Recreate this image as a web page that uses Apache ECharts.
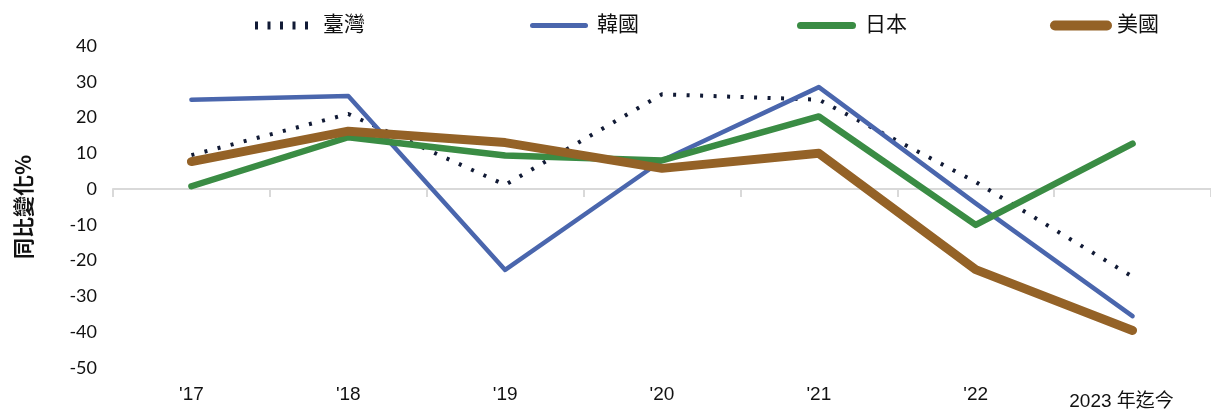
<!DOCTYPE html>
<html>
<head>
<meta charset="utf-8">
<script src="https://cdn.jsdelivr.net/npm/echarts@6/dist/echarts.min.js"></script>
<style>
html,body{margin:0;padding:0;background:#fff;}
#c{width:1211px;height:411px;}
</style>
</head>
<body>
<div id="c"></div>
<script>
const categories = ["'17", "'18", "'19", "'20", "'21", "'22", "2023 年迄今"];
const taiwan = [9.5, 21, 1.2, 26.5, 25, 2, -24.5];
const korea = [25, 26, -22.6, 8, 28.5, -4, -35.5];
const japan = [0.8, 14.5, 9.4, 8, 20.3, -10, 12.7];
const usa = [7.7, 16.2, 13, 5.8, 10, -22.5, -39.5];
const seriesNames = ["臺灣", "韓國", "日本", "美國"];
const yTicks = { min: -50, max: 40, interval: 10 };

const colors = ["#111a35", "#4a66ad", "#3a8c44", "#946227"];
const widths = [4, 4.5, 6.5, 9];
const types = [[3, 10.5], "solid", "solid", "solid"];
const dataSets = [taiwan, korea, japan, usa];

function pill(w, h) {
  const r = h / 2;
  return 'path://M' + r + ',0h' + (w - h) + 'a' + r + ',' + r + ' 0 0 1 0,' + h +
    'h-' + (w - h) + 'a' + r + ',' + r + ' 0 0 1 0,-' + h + 'z';
}
const legendLeft = [250, 525, 792, 1045];
const legendW = [53, 58, 59, 62];
const legendH = [8, 5, 7, 10];
const legendPad = [10, 4, 4, 0];
const legendIcon = [
  'path://M0,0h3v8h-3z M12.5,0h3v8h-3z M25,0h3v8h-3z M37.5,0h3v8h-3z M50,0h3v8h-3z',
  pill(58, 5), pill(59, 7), pill(62, 10)
];

const cjk = "'Liberation Sans', 'Noto Sans CJK TC', sans-serif";

const chart = echarts.init(document.getElementById('c'));
chart.setOption({
  animation: false,
  grid: { left: 113, right: 0, top: 46, bottom: 36 },
  legend: seriesNames.map((n, i) => ({
    data: [{ name: n, icon: legendIcon[i], itemStyle: { color: colors[i] } }],
    left: legendLeft[i],
    top: 10,
    itemWidth: legendW[i],
    itemHeight: legendH[i],
    textStyle: { fontSize: 21, color: '#111', fontFamily: cjk, padding: [0, 0, 0, legendPad[i]] },
    selectedMode: false
  })),
  xAxis: [
    {
      type: 'category',
      data: categories,
      position: 'bottom',
      boundaryGap: true,
      axisLine: { show: false, onZero: false },
      axisTick: { show: false },
      axisLabel: {
        interval: 0,
        margin: 17,
        fontSize: 19,
        color: '#111',
        fontFamily: cjk,
        formatter: function (v, i) { return i === 6 ? '{last|' + v + '}' : v; },
        rich: { last: { fontSize: 19, color: '#111', fontFamily: cjk, padding: [7, 22, 0, 0] } }
      }
    },
    {
      type: 'category',
      data: categories,
      position: 'top',
      boundaryGap: true,
      axisLine: { show: true, onZero: true, lineStyle: { color: '#d9d9d9', width: 2 } },
      axisTick: { show: true, inside: true, length: 8, interval: 0, lineStyle: { color: '#d9d9d9', width: 2 } },
      axisLabel: { show: false }
    }
  ],
  yAxis: {
    type: 'value',
    min: yTicks.min,
    max: yTicks.max,
    interval: yTicks.interval,
    axisLine: { show: false },
    axisTick: { show: false },
    splitLine: { show: false },
    axisLabel: { fontSize: 18, color: '#111', margin: 16, fontFamily: "'Lato', 'Liberation Sans', sans-serif" },
    name: '同比變化%',
    nameLocation: 'middle',
    nameGap: 79,
    nameRotate: 90,
    nameTextStyle: { fontSize: 21, color: '#111', fontWeight: 'bold', fontFamily: "'Noto Sans CJK TC', sans-serif" }
  },
  series: seriesNames.map((n, i) => ({
    name: n,
    type: 'line',
    xAxisIndex: 0,
    data: dataSets[i],
    symbol: 'none',
    color: colors[i],
    lineStyle: { color: colors[i], width: widths[i], type: types[i], cap: i === 0 ? 'butt' : 'round', join: 'round' },
    z: 2 + i
  }))
});
</script>
</body>
</html>
